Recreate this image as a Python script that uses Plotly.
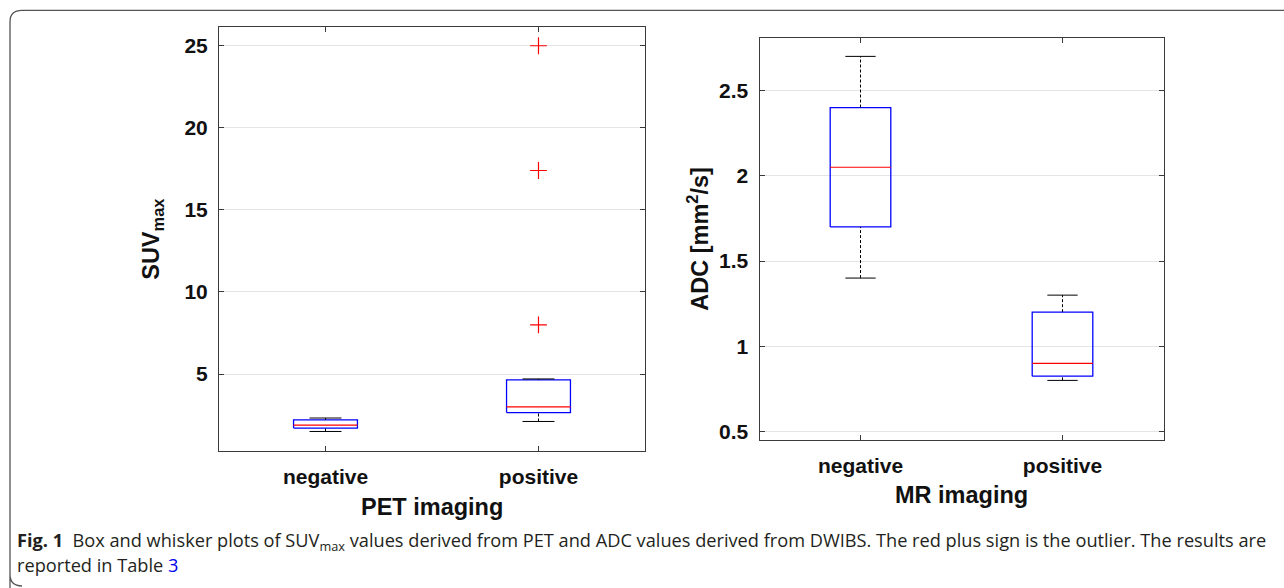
import plotly.graph_objects as go

W, H = 1284, 588

# ---------------- data ----------------
categories = ["negative", "positive"]
cat_pos = [1, 2]

pet_lower = [1.50, 2.11]
pet_q1 = [1.71, 2.65]
pet_median = [1.89, 3.00]
pet_q3 = [2.21, 4.65]
pet_upper = [2.32, 4.70]
pet_outlier_cat = [2, 2, 2]
pet_outliers = [25.0, 17.4, 8.0]

mr_lower = [1.40, 0.80]
mr_q1 = [1.70, 0.825]
mr_median = [2.05, 0.90]
mr_q3 = [2.40, 1.20]
mr_upper = [2.70, 1.30]

pet_yticks = [5, 10, 15, 20, 25]
mr_yticks = [0.5, 1, 1.5, 2, 2.5]

# ---------------- styling ----------------
BOX_HALF = 0.15
CAP_HALF = 0.075
AXCOL = "#3a3a3a"
GRID = "#e4e4e4"
TICKFONT = dict(family="Liberation Sans, Arial, sans-serif", size=21, color="#111111",
                weight="bold")
TITLEFONT = dict(family="Liberation Sans, Arial, sans-serif", size=23.5, color="#111111")


def px_x(p):
    return p / W


def px_y(p):
    return 1 - p / H


fig = go.Figure()


def add_boxes(xa, ya, lower, q1, med, q3, upper):
    for c, lo, a, m, b, up in zip(cat_pos, lower, q1, med, q3, upper):
        fig.add_trace(go.Scatter(
            x=[c - BOX_HALF, c + BOX_HALF, c + BOX_HALF, c - BOX_HALF, c - BOX_HALF],
            y=[a, a, b, b, a], mode="lines",
            line=dict(color="#0000ff", width=1.3), xaxis=xa, yaxis=ya,
            hoverinfo="skip", showlegend=False))
        for y0, y1 in ((b, up), (lo, a)):
            fig.add_trace(go.Scatter(
                x=[c, c], y=[y0, y1], mode="lines",
                line=dict(color="#000000", width=1, dash="3px,2px"),
                xaxis=xa, yaxis=ya, hoverinfo="skip", showlegend=False))
        for yv in (lo, up):
            fig.add_trace(go.Scatter(
                x=[c - CAP_HALF, c + CAP_HALF], y=[yv, yv], mode="lines",
                line=dict(color="#000000", width=1),
                xaxis=xa, yaxis=ya, hoverinfo="skip", showlegend=False))
        fig.add_trace(go.Scatter(
            x=[c - BOX_HALF, c + BOX_HALF], y=[m, m], mode="lines",
            line=dict(color="#ff0000", width=1.2),
            xaxis=xa, yaxis=ya, hoverinfo="skip", showlegend=False))


add_boxes("x", "y", pet_lower, pet_q1, pet_median, pet_q3, pet_upper)
fig.add_trace(go.Scatter(
    x=pet_outlier_cat, y=pet_outliers, mode="markers",
    marker=dict(symbol="cross-thin", size=12, line=dict(color="#ff0000", width=1.2)),
    xaxis="x", yaxis="y", hoverinfo="skip", showlegend=False))

add_boxes("x2", "y2", mr_lower, mr_q1, mr_median, mr_q3, mr_upper)

# ---------------- axes ----------------
L = dict(x0=219, x1=645, y0=27, y1=453)
R = dict(x0=759.5, x1=1163.5, y0=38.5, y1=442)

common_x = dict(
    range=[0.5, 2.5], tickvals=cat_pos, ticktext=categories,
    showline=True, mirror="ticks", linecolor=AXCOL, linewidth=1,
    ticks="inside", ticklen=5, tickcolor=AXCOL, tickwidth=1,
    showgrid=False, zeroline=False, tickfont=TICKFONT, ticklabelstandoff=7)
common_y = dict(
    showline=True, mirror="ticks", linecolor=AXCOL, linewidth=1,
    ticks="inside", ticklen=5, tickcolor=AXCOL, tickwidth=1,
    showgrid=True, gridcolor=GRID, gridwidth=1, zeroline=False,
    tickfont=TICKFONT, ticklabelstandoff=6)

fig.update_layout(
    width=W, height=H, margin=dict(l=0, r=0, t=0, b=0),
    paper_bgcolor="white", plot_bgcolor="white", showlegend=False,
    xaxis=dict(domain=[px_x(L["x0"]), px_x(L["x1"])], anchor="y", **common_x),
    yaxis=dict(domain=[px_y(L["y1"]), px_y(L["y0"])], anchor="x",
               range=[0.33, 26.15], tickvals=pet_yticks,
               ticktext=[str(v) for v in pet_yticks], **common_y),
    xaxis2=dict(domain=[px_x(R["x0"]), px_x(R["x1"])], anchor="y2", **common_x),
    yaxis2=dict(domain=[px_y(R["y1"]), px_y(R["y0"])], anchor="x2",
                range=[0.452, 2.806], tickvals=mr_yticks,
                ticktext=[f"{v:g}" for v in mr_yticks], **common_y),
)

# ---------------- axis titles ----------------
ann = [
    dict(text="<b>SUV<sub>max</sub></b>", x=px_x(153), y=px_y(240), textangle=-90,
         font=TITLEFONT),
    dict(text="<b>ADC [mm<sup>2</sup>/s]</b>", x=px_x(698), y=px_y(240), textangle=-90,
         font=TITLEFONT),
    dict(text="<b>PET imaging</b>", x=px_x(432), y=px_y(510), font=TITLEFONT),
    dict(text="<b>MR imaging</b>", x=px_x(961), y=px_y(498), font=TITLEFONT),
]
for a in ann:
    fig.add_annotation(xref="paper", yref="paper", showarrow=False,
                       xanchor="center", yanchor="middle", **a)

# ---------------- caption ----------------
CAPFONT = dict(family="Open Sans, Noto Sans, sans-serif", size=18.2, color="#231f20")
fig.add_annotation(
    xref="paper", yref="paper", x=px_x(15), y=px_y(544), xanchor="left", yanchor="middle",
    showarrow=False, font=CAPFONT, align="left",
    text="<b>Fig. 1</b>  Box and whisker plots of SUV<sub>max</sub> values derived from PET and ADC "
         "values derived from DWIBS. The red plus sign is the outlier. The results are")
fig.add_annotation(
    xref="paper", yref="paper", x=px_x(15), y=px_y(568), xanchor="left", yanchor="middle",
    showarrow=False, font=CAPFONT, align="left",
    text="reported in Table <span style='color:#0000ee'>3</span>")

# ---------------- frame ----------------
def P(x, y):
    return f"{px_x(x):.5f},{px_y(y):.5f}"

frame = (f"M {P(10, 600)} L {P(10, 577)} Q {P(10, 589)} {P(22, 589)} "
         f"M {P(10, 577)} L {P(10, 22)} Q {P(10, 10.5)} {P(22, 10.5)} L {P(1300, 10.5)}")
fig.add_shape(type="path", xref="paper", yref="paper", path=frame,
              line=dict(color="#555555", width=1.3), layer="above")

fig.write_html("out.html", config={"displayModeBar": False},
               post_script="document.body.style.margin='0';document.body.style.overflow='hidden';")
